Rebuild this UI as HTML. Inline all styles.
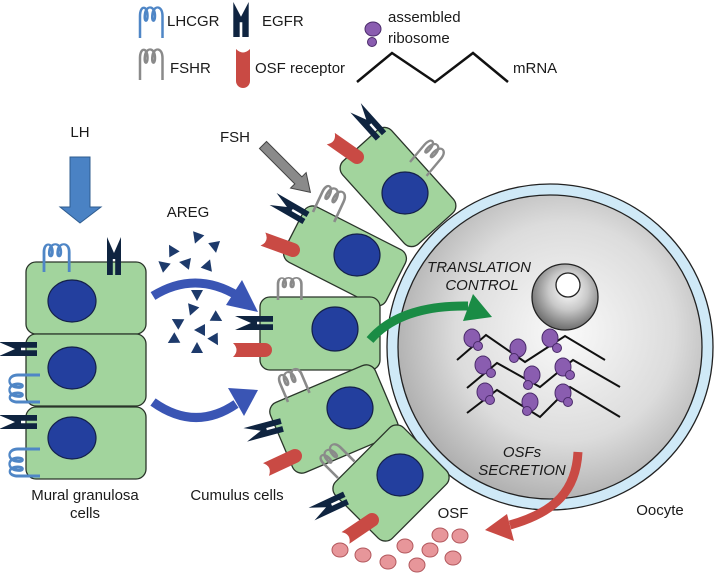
<!DOCTYPE html>
<html><head><meta charset="utf-8"><style>
html,body{margin:0;padding:0;background:#fff;width:714px;height:580px;overflow:hidden}
svg{display:block}
text{font-family:"Liberation Sans",Arial,sans-serif;fill:#1a1a1a}
</style></head><body>
<svg width="714" height="580" viewBox="0 0 714 580" xmlns="http://www.w3.org/2000/svg">
<defs>
<radialGradient id="oo" cx="0.55" cy="0.45" r="0.6">
<stop offset="0" stop-color="#fafafa"/><stop offset="0.6" stop-color="#dcdcdc"/><stop offset="1" stop-color="#a9a9a9"/>
</radialGradient>
<radialGradient id="nu" cx="0.55" cy="0.4" r="0.6">
<stop offset="0" stop-color="#ffffff"/><stop offset="0.5" stop-color="#c8c8c8"/><stop offset="1" stop-color="#6e6e6e"/>
</radialGradient>
<g id="egfr"><polygon points="-7,-38 0,-22 7,-38 7,0 1.2,0 1.2,-16 -1.2,-16 -1.2,0 -7,0" fill="#0f2440"/></g>
<g id="osf"><path d="M-7,0 L-7,-32 Q0,-25 7,-32 L7,0 A7,7 0 0 1 -7,0 Z" fill="#c94a44"/></g>
<path id="sq" d="M0,0 L0,-20 C0,-30 6,-30 6,-20 C6,-14 3,-14 4,-22 C5,-30 12,-30 12,-20 C12,-14 9,-14 10,-22 C11,-30 18,-30 18,-20 L18,0" fill="none" stroke-width="2"/>
<g id="rib"><ellipse cx="0" cy="0" rx="8" ry="9" fill="#8a5db0" stroke="#4a2a6a" stroke-width="1"/></g>
</defs>

<!-- Legend -->
<use href="#sq" transform="translate(140,38) scale(1.25,1.1)" stroke="#4f86c6"/>
<text x="167" y="26" font-size="15">LHCGR</text>
<use href="#egfr" transform="translate(241,37) scale(1.1,0.92)"/>
<text x="262" y="26" font-size="15">EGFR</text>
<ellipse cx="373" cy="29" rx="8" ry="7" fill="#8a5db0" stroke="#4a2a6a"/>
<circle cx="372" cy="42" r="4.5" fill="#8a5db0" stroke="#4a2a6a"/>
<text x="388" y="22" font-size="15">assembled</text>
<text x="388" y="43" font-size="15">ribosome</text>
<use href="#sq" transform="translate(140,80) scale(1.25,1.1)" stroke="#8a8a8a"/>
<text x="170" y="73" font-size="15">FSHR</text>
<use href="#osf" transform="translate(243,81)"/>
<text x="255" y="73" font-size="15">OSF receptor</text>
<polyline points="357,82 392,53 435,82 473,53 508,82" fill="none" stroke="#111" stroke-width="2.5"/>
<text x="513" y="73" font-size="15">mRNA</text>

<!-- Oocyte -->
<circle cx="550" cy="347" r="163" fill="#cfe9f7" stroke="#222" stroke-width="1.3"/>
<circle cx="550" cy="347" r="152" fill="url(#oo)" stroke="#222" stroke-width="1.3"/>
<circle cx="565" cy="297" r="33" fill="url(#nu)" stroke="#222" stroke-width="1.3"/>
<circle cx="568" cy="285" r="12" fill="#fff" stroke="#222" stroke-width="1.3"/>
<text x="479" y="272" font-size="15" font-style="italic" text-anchor="middle">TRANSLATION</text>
<text x="482" y="290" font-size="15" font-style="italic" text-anchor="middle">CONTROL</text>
<text x="522" y="457" font-size="15" font-style="italic" text-anchor="middle">OSFs</text>
<text x="522" y="475" font-size="15" font-style="italic" text-anchor="middle">SECRETION</text>

<!-- mRNA + ribosomes -->
<g fill="none" stroke="#111" stroke-width="2">
<polyline points="457,360 486,335 525,362 565,336 605,360"/>
<polyline points="467,388 497,363 540,387 573,360 620,387"/>
<polyline points="467,413 497,390 540,417 570,387 620,417"/>
</g>
<g fill="#8a5db0" stroke="#4a2a6a" stroke-width="1">
<ellipse cx="472" cy="338" rx="8" ry="9"/><circle cx="478" cy="346" r="4.5"/>
<ellipse cx="518" cy="348" rx="8" ry="9"/><circle cx="514" cy="358" r="4.5"/>
<ellipse cx="550" cy="338" rx="8" ry="9"/><circle cx="557" cy="348" r="4.5"/>
<ellipse cx="483" cy="365" rx="8" ry="9"/><circle cx="491" cy="373" r="4.5"/>
<ellipse cx="532" cy="375" rx="8" ry="9"/><circle cx="528" cy="385" r="4.5"/>
<ellipse cx="563" cy="367" rx="8" ry="9"/><circle cx="570" cy="375" r="4.5"/>
<ellipse cx="485" cy="392" rx="8" ry="9"/><circle cx="490" cy="400" r="4.5"/>
<ellipse cx="530" cy="402" rx="8" ry="9"/><circle cx="527" cy="411" r="4.5"/>
<ellipse cx="563" cy="393" rx="8" ry="9"/><circle cx="568" cy="402" r="4.5"/>
</g>

<!-- Mural cells -->
<g fill="#a2d49d" stroke="#2a352a" stroke-width="1.3">
<rect x="26" y="262" width="120" height="72" rx="10"/>
<rect x="26" y="334" width="120" height="72" rx="10"/>
<rect x="26" y="407" width="120" height="72" rx="10"/>
</g>
<g fill="#233f9e" stroke="#14204a" stroke-width="1.2">
<ellipse cx="72" cy="301" rx="24" ry="21"/>
<ellipse cx="72" cy="368" rx="24" ry="21"/>
<ellipse cx="72" cy="438" rx="24" ry="21"/>
</g>
<use href="#egfr" transform="translate(114,275)"/>
<use href="#egfr" transform="translate(37,349) rotate(-90)"/>
<use href="#egfr" transform="translate(37,422) rotate(-90)"/>
<use href="#sq" transform="translate(44,272) scale(1.4,1)" stroke="#4f86c6"/>
<use href="#sq" transform="translate(40,402) rotate(-90) scale(1.5,1.1)" stroke="#4f86c6"/>
<use href="#sq" transform="translate(40,476) rotate(-90) scale(1.5,1.1)" stroke="#4f86c6"/>

<!-- LH arrow -->
<polygon points="70,157 90,157 90,207 101,207 80,223 60,207 70,207" fill="#4a82c4" stroke="#2f5c8f" stroke-width="1"/>
<text x="80" y="137" font-size="15" text-anchor="middle">LH</text>
<text x="235" y="142" font-size="15" text-anchor="middle">FSH</text>
<text x="188" y="217" font-size="15" text-anchor="middle">AREG</text>
<!-- FSH arrow -->
<g transform="translate(263,145) rotate(45)">
<polygon points="0,-5 50,-5 50,-11 67,0 50,11 50,5 0,5" fill="#8a8a8a" stroke="#444" stroke-width="1"/>
</g>

<!-- AREG triangles -->
<g fill="#1d3a6b">
<polygon points="-6,-5 6,-5 0,6" transform="translate(197,238) rotate(20)"/>
<polygon points="-6,-5 6,-5 0,6" transform="translate(215,247) rotate(-10)"/>
<polygon points="-6,-5 6,-5 0,6" transform="translate(172,250) rotate(150)"/>
<polygon points="-6,-5 6,-5 0,6" transform="translate(185,263) rotate(100)"/>
<polygon points="-6,-5 6,-5 0,6" transform="translate(208,265) rotate(200)"/>
<polygon points="-6,-5 6,-5 0,6" transform="translate(163,265) rotate(130)"/>
<polygon points="-6,-5 6,-5 0,6" transform="translate(197,295) rotate(0)"/>
<polygon points="-6,-5 6,-5 0,6" transform="translate(192,310) rotate(20)"/>
<polygon points="-6,-5 6,-5 0,6" transform="translate(177,322) rotate(120)"/>
<polygon points="-6,-5 6,-5 0,6" transform="translate(217,318) rotate(-60)"/>
<polygon points="-6,-5 6,-5 0,6" transform="translate(200,330) rotate(90)"/>
<polygon points="-6,-5 6,-5 0,6" transform="translate(173,340) rotate(60)"/>
<polygon points="-6,-5 6,-5 0,6" transform="translate(215,340) rotate(-30)"/>
<polygon points="-6,-5 6,-5 0,6" transform="translate(197,348) rotate(180)"/>
</g>

<!-- Blue arrows -->
<g fill="none" stroke="#3a55b4" stroke-width="9">
<path d="M153,296 Q195,270 238,296"/>
<path d="M153,402 Q195,432 236,404"/>
</g>
<polygon points="258,312 242,280 226,305" fill="#3a55b4"/>
<polygon points="258,390 228,388 244,416" fill="#3a55b4"/>

<!-- Cumulus cells -->
<g fill="#a2d49d" stroke="#2a352a" stroke-width="1.3">
<rect x="-56" y="-33" width="112" height="66" rx="10" transform="translate(398,187) rotate(48)"/>
<rect x="-57" y="-31" width="114" height="62" rx="10" transform="translate(345,256) rotate(27)"/>
<rect x="260" y="297" width="120" height="73" rx="10"/>
<rect x="-57" y="-38" width="114" height="76" rx="10" transform="translate(334,419) rotate(-23)"/>
<rect x="-48" y="-40" width="96" height="80" rx="10" transform="translate(391,483) rotate(-45)"/>
</g>
<g fill="#233f9e" stroke="#14204a" stroke-width="1.2">
<ellipse cx="405" cy="193" rx="23" ry="21"/>
<ellipse cx="357" cy="255" rx="23" ry="21"/>
<ellipse cx="335" cy="329" rx="23" ry="22"/>
<ellipse cx="350" cy="408" rx="23" ry="21"/>
<ellipse cx="400" cy="475" rx="23" ry="21"/>
</g>
<!-- cumulus receptors -->
<use href="#egfr" transform="translate(381,136) rotate(-42)"/>
<use href="#osf" transform="translate(357,157) rotate(-55)"/>
<use href="#sq" transform="translate(410,162) rotate(40) scale(1.2,1.1)" stroke="#8a8a8a"/>
<use href="#egfr" transform="translate(306,218) rotate(-60)"/>
<use href="#osf" transform="translate(293,250) rotate(-70)"/>
<use href="#sq" transform="translate(313,212) rotate(25) scale(1.3,1.1)" stroke="#8a8a8a"/>
<use href="#sq" transform="translate(278,300) scale(1.3,0.8)" stroke="#8a8a8a"/>
<use href="#egfr" transform="translate(273,323) rotate(-90)"/>
<use href="#osf" transform="translate(265,350) rotate(-90)"/>
<use href="#sq" transform="translate(288,402) rotate(-23) scale(1.3,1)" stroke="#8a8a8a"/>
<use href="#egfr" transform="translate(282,425) rotate(-105)"/>
<use href="#osf" transform="translate(295,456) rotate(-115)"/>
<use href="#sq" transform="translate(338,478) rotate(-45) scale(1.3,1)" stroke="#8a8a8a"/>
<use href="#egfr" transform="translate(346,498) rotate(-115)"/>
<use href="#osf" transform="translate(372,520) rotate(-124)"/>

<!-- Green arrow -->
<path d="M370,340 Q400,305 468,306" fill="none" stroke="#1a8c45" stroke-width="9"/>
<polygon points="492,317 473,294 463,321" fill="#1a8c45"/>
<!-- Red arrow -->
<path d="M578,452 C576,490 556,512 510,525" fill="none" stroke="#c94a44" stroke-width="9"/>
<polygon points="485,530 507,514 514,541" fill="#c94a44"/>

<!-- OSF circles -->
<g fill="#e7969a" stroke="#b2585d" stroke-width="1">
<ellipse cx="340" cy="550" rx="8" ry="7"/>
<ellipse cx="363" cy="555" rx="8" ry="7"/>
<ellipse cx="388" cy="562" rx="8" ry="7"/>
<ellipse cx="405" cy="546" rx="8" ry="7"/>
<ellipse cx="417" cy="565" rx="8" ry="7"/>
<ellipse cx="430" cy="550" rx="8" ry="7"/>
<ellipse cx="440" cy="535" rx="8" ry="7"/>
<ellipse cx="453" cy="558" rx="8" ry="7"/>
<ellipse cx="460" cy="536" rx="8" ry="7"/>
</g>

<text x="453" y="518" font-size="15" text-anchor="middle">OSF</text>
<text x="660" y="515" font-size="15" text-anchor="middle">Oocyte</text>
<text x="237" y="500" font-size="15" text-anchor="middle">Cumulus cells</text>
<text x="85" y="500" font-size="15" text-anchor="middle">Mural granulosa</text>
<text x="85" y="518" font-size="15" text-anchor="middle">cells</text>
</svg>
</body></html>
